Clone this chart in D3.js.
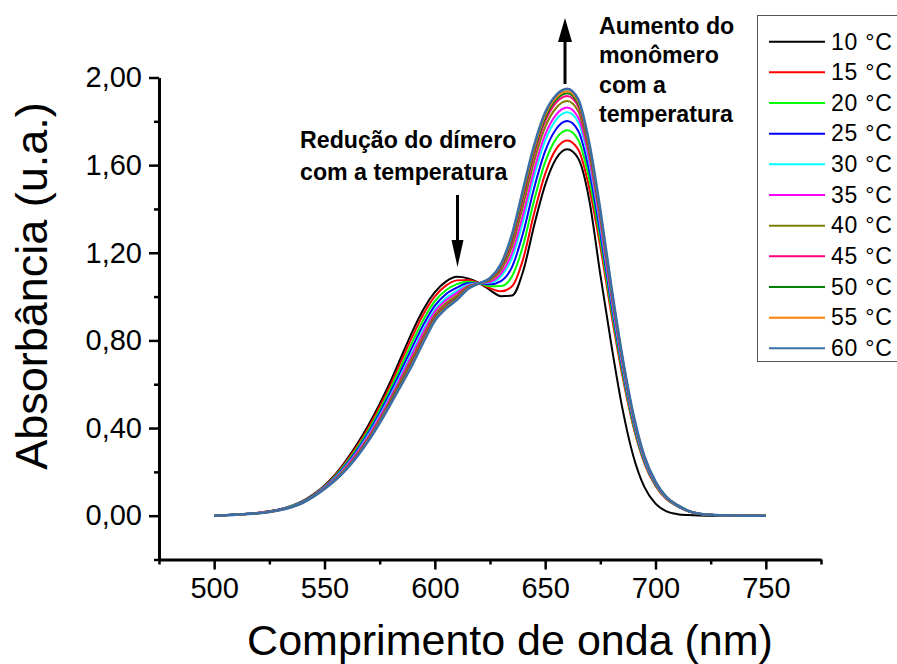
<!DOCTYPE html>
<html><head><meta charset="utf-8">
<script src="https://cdn.jsdelivr.net/npm/d3@7"></script>
<style>body{margin:0;background:#fff}svg{display:block}</style>
</head><body><svg id="c" width="897" height="664"></svg>
<script>
const wavelengths = [500,505,510,515,520,525,530,535,540,545,550,555,560,565,570,575,580,585,590,595,600,605,610,615,620,625,630,635,640,645,650,655,660,665,670,675,680,685,690,695,700,705,710,715,720,725,730,735,740,745,750];
const temperatures = ["10 °C","15 °C","20 °C","25 °C","30 °C","35 °C","40 °C","45 °C","50 °C","55 °C","60 °C"];
const seriesColors = ["#000000","#ff0000","#00ff00","#0000ff","#00ffff","#ff00ff","#808000","#ff0080","#008000","#ff8000","#3a6ea5"];
const abs10 = [0,0.002,0.005,0.009,0.013,0.020,0.030,0.045,0.066,0.097,0.138,0.190,0.255,0.330,0.415,0.510,0.615,0.730,0.845,0.945,1.020,1.068,1.090,1.083,1.062,1.030,1.002,1.005,1.115,1.325,1.510,1.630,1.672,1.630,1.440,1.100,0.780,0.490,0.270,0.130,0.055,0.020,0.007,0.003,0.001,0,0,0,0,0,0];
const abs15 = [0,0.002,0.005,0.009,0.013,0.020,0.030,0.045,0.065,0.096,0.136,0.186,0.249,0.321,0.404,0.497,0.599,0.711,0.822,0.923,1.001,1.050,1.074,1.076,1.062,1.038,1.024,1.047,1.171,1.380,1.560,1.674,1.713,1.671,1.496,1.228,0.920,0.638,0.405,0.238,0.136,0.075,0.042,0.019,0.008,0.004,0.002,0.001,0,0,0];
const abs20 = [0,0.002,0.005,0.009,0.012,0.019,0.029,0.044,0.064,0.094,0.133,0.182,0.242,0.312,0.392,0.483,0.582,0.689,0.797,0.898,0.979,1.029,1.057,1.068,1.061,1.047,1.048,1.093,1.233,1.440,1.614,1.721,1.759,1.715,1.535,1.260,0.944,0.655,0.415,0.244,0.140,0.077,0.043,0.020,0.008,0.004,0.002,0.001,0,0,0];
const abs25 = [0,0.002,0.005,0.009,0.012,0.019,0.029,0.043,0.063,0.093,0.131,0.177,0.235,0.303,0.381,0.469,0.566,0.669,0.774,0.875,0.959,1.011,1.041,1.061,1.061,1.056,1.071,1.136,1.290,1.496,1.664,1.765,1.801,1.756,1.573,1.290,0.967,0.671,0.426,0.250,0.143,0.079,0.044,0.020,0.008,0.004,0.002,0.001,0,0,0];
const abs30 = [0,0.002,0.004,0.008,0.012,0.018,0.028,0.042,0.062,0.091,0.128,0.173,0.229,0.295,0.371,0.457,0.551,0.650,0.752,0.853,0.940,0.993,1.026,1.054,1.061,1.064,1.093,1.177,1.345,1.549,1.712,1.808,1.841,1.796,1.608,1.320,0.989,0.686,0.435,0.255,0.147,0.080,0.045,0.021,0.009,0.004,0.002,0.001,0,0,0];
const abs35 = [0,0.002,0.004,0.008,0.012,0.018,0.028,0.041,0.061,0.090,0.127,0.171,0.226,0.291,0.365,0.450,0.542,0.640,0.740,0.841,0.930,0.983,1.017,1.050,1.061,1.068,1.105,1.199,1.375,1.578,1.739,1.831,1.863,1.817,1.627,1.335,1.000,0.694,0.440,0.258,0.148,0.081,0.046,0.021,0.009,0.004,0.002,0.001,0,0,0];
const abs40 = [0,0.002,0.004,0.008,0.011,0.018,0.027,0.041,0.060,0.089,0.125,0.168,0.221,0.285,0.357,0.440,0.531,0.626,0.724,0.825,0.916,0.970,1.006,1.045,1.060,1.074,1.120,1.229,1.415,1.617,1.774,1.862,1.893,1.846,1.652,1.356,1.016,0.705,0.447,0.262,0.151,0.083,0.047,0.021,0.009,0.004,0.002,0.001,0,0,0];
const abs45 = [0,0.002,0.004,0.008,0.011,0.017,0.027,0.040,0.059,0.088,0.124,0.166,0.218,0.280,0.351,0.433,0.522,0.615,0.711,0.813,0.905,0.959,0.997,1.041,1.060,1.079,1.133,1.252,1.446,1.647,1.801,1.886,1.916,1.868,1.673,1.373,1.028,0.713,0.453,0.266,0.153,0.084,0.047,0.022,0.009,0.004,0.002,0.001,0,0,0];
const abs50 = [0,0.002,0.004,0.008,0.011,0.017,0.026,0.040,0.059,0.088,0.123,0.165,0.216,0.277,0.348,0.429,0.518,0.610,0.704,0.806,0.900,0.954,0.993,1.039,1.060,1.081,1.139,1.265,1.463,1.663,1.816,1.899,1.928,1.880,1.683,1.381,1.035,0.718,0.455,0.267,0.153,0.084,0.048,0.022,0.009,0.004,0.002,0.001,0,0,0];
const abs55 = [0,0.002,0.004,0.008,0.011,0.017,0.026,0.039,0.058,0.087,0.123,0.164,0.215,0.275,0.346,0.427,0.514,0.605,0.699,0.801,0.895,0.950,0.989,1.037,1.060,1.083,1.144,1.274,1.475,1.675,1.827,1.908,1.937,1.889,1.690,1.387,1.039,0.721,0.457,0.268,0.154,0.084,0.048,0.022,0.009,0.004,0.002,0.001,0,0,0];
const abs60 = [0,0.002,0.004,0.008,0.011,0.017,0.026,0.039,0.058,0.087,0.122,0.163,0.213,0.273,0.343,0.423,0.510,0.600,0.693,0.795,0.890,0.945,0.985,1.035,1.060,1.085,1.150,1.285,1.490,1.690,1.840,1.920,1.948,1.900,1.700,1.395,1.045,0.725,0.460,0.270,0.155,0.085,0.048,0.022,0.009,0.004,0.002,0.001,0,0,0];
const xMajorTicks = [500,550,600,650,700,750];
const xMinorTicks = [475,525,575,625,675,725,775];
const yMajorTicks = [0,0.4,0.8,1.2,1.6,2.0];
const yMinorTicks = [-0.2,0.2,0.6,1.0,1.4,1.8];

const allSeries = [abs10,abs15,abs20,abs25,abs30,abs35,abs40,abs45,abs50,abs55,abs60];
const FONT = '"Liberation Sans", Arial, Helvetica, sans-serif';
const svg = d3.select("#c");
const x = d3.scaleLinear().domain([475,775]).range([159,821]);
const y = d3.scaleLinear().domain([-0.2,2.0]).range([559.5,77.5]);
const fmt = v => d3.format(".2f")(v).replace(".", ",");

// curves
const line = d3.line().x(d => x(d[0])).y(d => y(d[1])).curve(d3.curveMonotoneX);
allSeries.forEach((vals, i) => {
  svg.append("path")
    .datum(wavelengths.map((w, j) => [w, vals[j]]))
    .attr("fill", "none")
    .attr("stroke", seriesColors[i])
    .attr("stroke-width", i === 10 ? 2.6 : 2)
    .attr("d", line);
});

// axes
function styleAxis(g, fs) {
  g.selectAll(".domain").attr("stroke", "#000").attr("stroke-width", 3);
  g.selectAll(".tick line").attr("stroke", "#000").attr("stroke-width", 2.5);
  g.selectAll(".tick text").attr("font-family", FONT).attr("font-size", fs).attr("fill", "#000");
}
const yAxis = svg.append("g").attr("transform", "translate(159,0)")
  .call(d3.axisLeft(y).tickValues(yMajorTicks).tickFormat(fmt).tickSize(10).tickSizeOuter(0).tickPadding(7));
styleAxis(yAxis, 29);
const yMinor = svg.append("g").attr("transform", "translate(159,0)")
  .call(d3.axisLeft(y).tickValues(yMinorTicks).tickFormat("").tickSize(5).tickSizeOuter(0));
styleAxis(yMinor, 29);
yMinor.select(".domain").remove();

const xAxis = svg.append("g").attr("transform", "translate(0,559.5)")
  .call(d3.axisBottom(x).tickValues(xMajorTicks).tickFormat(d3.format("d")).tickSize(10).tickSizeOuter(0).tickPadding(8));
styleAxis(xAxis, 29);
const xMinor = svg.append("g").attr("transform", "translate(0,559.5)")
  .call(d3.axisBottom(x).tickValues(xMinorTicks).tickFormat("").tickSize(5).tickSizeOuter(0));
styleAxis(xMinor, 29);
xMinor.select(".domain").remove();

// axis titles
svg.append("text").attr("x", 510).attr("y", 655).attr("text-anchor", "middle")
  .attr("font-family", FONT).attr("font-size", 43).text("Comprimento de onda (nm)");
svg.append("text").attr("transform", "translate(47,286) rotate(-90)").attr("text-anchor", "middle")
  .attr("font-family", FONT).attr("font-size", 45).text("Absorbância (u.a.)");

// annotations
const ann = svg.append("g").attr("font-family", FONT).attr("font-weight", "bold").attr("font-size", 23.2).attr("fill", "#000");
ann.append("text").attr("x", 300).attr("y", 148).text("Redução do dímero");
ann.append("text").attr("x", 300).attr("y", 180).text("com a temperatura");
["Aumento do","monômero","com a","temperatura"].forEach((t, i) => {
  ann.append("text").attr("x", 599).attr("y", 34 + i * 29.3).text(t);
});

// arrows
svg.append("line").attr("x1", 457.5).attr("y1", 195).attr("x2", 457.5).attr("y2", 245).attr("stroke", "#000").attr("stroke-width", 3);
svg.append("path").attr("d", "M451.5,240 L463.5,240 L457.5,267 Z").attr("fill", "#000");
svg.append("line").attr("x1", 565).attr("y1", 84).attr("x2", 565).attr("y2", 38).attr("stroke", "#000").attr("stroke-width", 3);
svg.append("path").attr("d", "M558,42 L572,42 L565,18 Z").attr("fill", "#000");

// legend
const leg = svg.append("g");
leg.append("rect").attr("x", 757.5).attr("y", 15.5).attr("width", 160).attr("height", 346)
  .attr("fill", "#fff").attr("stroke", "#555").attr("stroke-width", 1);
temperatures.forEach((t, i) => {
  const ly = 41.7 + i * 30.66;
  leg.append("line").attr("x1", 769).attr("x2", 825).attr("y1", ly).attr("y2", ly)
    .attr("stroke", seriesColors[i]).attr("stroke-width", 2);
  leg.append("text").attr("x", 831).attr("y", ly + 7.8).attr("font-family", FONT).attr("font-size", 23)
    .attr("letter-spacing", 0.8).text(t);
});
</script></body></html>
